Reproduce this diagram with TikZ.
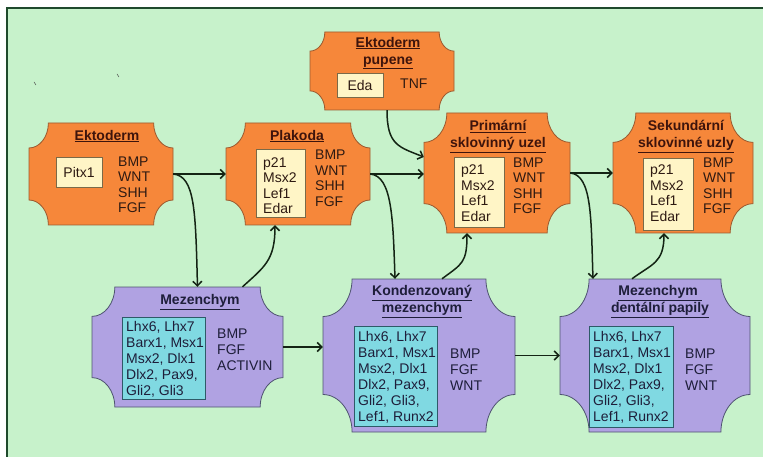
\documentclass[tikz,border=0pt]{standalone}
\usepackage{fontspec}
\setmainfont{Liberation Sans}
\usetikzlibrary{arrows.meta,calc}
\definecolor{bggreen}{HTML}{C7F2CB}
\definecolor{framec}{HTML}{1F4A2C}
\definecolor{orangeF}{HTML}{F6873A}
\definecolor{orangeD}{HTML}{9A5A30}
\definecolor{purpleF}{HTML}{B0A2E2}
\definecolor{purpleD}{HTML}{4F5470}
\definecolor{creamF}{HTML}{FFF5C6}
\definecolor{creamD}{HTML}{7A6A48}
\definecolor{cyanF}{HTML}{80D9E2}
\definecolor{cyanD}{HTML}{2E5A68}
\definecolor{txtO}{HTML}{2E1A12}
\definecolor{titO}{HTML}{3E140C}
\definecolor{txtP}{HTML}{1E1E3A}
\definecolor{arrc}{HTML}{142414}
\newcommand\plaque[7]{%
  \pgfmathsetmacro\plW{#4-#2}\pgfmathsetmacro\plH{#5-#3}%
  \pgfmathsetmacro\plM{min(\plW,\plH)}%
  \pgfmathsetmacro\plRx{0.19*\plM}\pgfmathsetmacro\plRy{0.245*\plM}%
  \pgfmathsetmacro\plKx{0.552*\plRx}\pgfmathsetmacro\plKy{0.552*\plRy}%
  \node[inner sep=0pt, minimum width=\plW pt, minimum height=\plH pt] (#1) at ({(#2+#4)/2},{(#3+#5)/2}) {};
  \filldraw[fill=#6, draw=#7, line width=0.8pt]
    ({#2+\plRx},#3) -- ({#4-\plRx},#3)
    .. controls ({#4-\plRx},{#3+\plKy}) and ({#4-\plKx},{#3+\plRy}) .. (#4,{#3+\plRy})
    -- (#4,{#5-\plRy})
    .. controls ({#4-\plKx},{#5-\plRy}) and ({#4-\plRx},{#5-\plKy}) .. ({#4-\plRx},#5)
    -- ({#2+\plRx},#5)
    .. controls ({#2+\plRx},{#5-\plKy}) and ({#2+\plKx},{#5-\plRy}) .. (#2,{#5-\plRy})
    -- (#2,{#3+\plRy})
    .. controls ({#2+\plKx},{#3+\plRy}) and ({#2+\plRx},{#3+\plKy}) .. cycle;
}
\tikzset{
  ttlO/.style={font=\fontsize{14}{17}\selectfont\bfseries, text=titO, inner sep=0pt, align=center},
  ttlP/.style={font=\fontsize{14}{17}\selectfont\bfseries, text=txtP, inner sep=0pt, align=center},
  lstO/.style={font=\fontsize{14}{15.5}\selectfont, text=txtO, inner sep=0pt, align=left, anchor=west},
  lstP/.style={font=\fontsize{14}{16}\selectfont, text=txtP, inner sep=0pt, align=left, anchor=west},
  creambox/.style={draw=creamD, fill=creamF, line width=0.6pt, inner sep=0pt},
  cyanbox/.style={draw=cyanD, fill=cyanF, line width=0.6pt, inner sep=0pt},
  arr/.style={draw=arrc, line width=1.5pt, -{Straight Barb[length=4.5pt,width=9pt]}}
}
\begin{document}
\begin{tikzpicture}[x=1pt,y=-1pt]
\useasboundingbox (0,0) rectangle (763,457);
\fill[white] (0,0) rectangle (763,457);
\fill[bggreen] (7,8) rectangle (763,457);
\draw[framec, line width=1.6pt] (7,457) -- (7,8) -- (763,8);
\draw[gray!60!black, line width=0.5pt] (34,82) -- (36,85);
\draw[gray!60!black, line width=0.5pt] (117,74) -- (119,77);

% plaques
\plaque{ekt}{29}{123}{173}{225}{orangeF}{orangeD}
\plaque{plak}{226}{123}{370}{225}{orangeF}{orangeD}
\plaque{pup}{310}{32}{454}{110}{orangeF}{orangeD}
\plaque{prim}{424}{113}{570}{233}{orangeF}{orangeD}
\plaque{sek}{613}{113}{753}{233}{orangeF}{orangeD}
\plaque{mez}{92}{287}{283}{407}{purpleF}{purpleD}
\plaque{kond}{323}{279}{515}{432}{purpleF}{purpleD}
\plaque{dent}{560}{279}{750}{432}{purpleF}{purpleD}

% Ektoderm
\node[ttlO] (t1) at (107,136) {\underline{Ektoderm}};
\node[creambox, minimum width=46pt, minimum height=30pt, font=\fontsize{14}{16}\selectfont, text=txtO] (b1) at (79,172) {Pitx1};
\node[lstO] (l1) at (118,185) {BMP\\WNT\\SHH\\FGF};

% Plakoda
\node[ttlO] (t2) at (297,136) {\underline{Plakoda}};
\node[creambox, minimum width=49pt, minimum height=68pt] (b2) at (280.5,183) {};
\node[lstO] (c2) at (263,185.5) {p21\\Msx2\\Lef1\\Edar};
\node[lstO] (l2) at (315,178.5) {BMP\\WNT\\SHH\\FGF};

% Ektoderm pupene
\node[ttlO] (t3) at (388,53) {\underline{Ektoderm}\\\underline{pupene}};
\node[creambox, minimum width=46pt, minimum height=24pt, font=\fontsize{14}{16}\selectfont, text=txtO] (b3) at (360,85) {Eda};
\node[lstO] (l3) at (400,84) {TNF};

% Primarni sklovinny uzel
\node[ttlO] (t4) at (498,136.5) {\underline{Primární}\\\underline{sklovinný uzel}};
\node[creambox, minimum width=50pt, minimum height=70pt] (b4) at (479,192) {};
\node[lstO] (c4) at (461,193) {p21\\Msx2\\Lef1\\Edar};
\node[lstO] (l4) at (513,186) {BMP\\WNT\\SHH\\FGF};

% Sekundarni sklovinne uzly
\node[ttlO] (t5) at (686,136.5) {Sekundární\\\underline{sklovinné uzly}};
\node[creambox, minimum width=50pt, minimum height=72pt] (b5) at (668,194) {};
\node[lstO] (c5) at (650,193) {p21\\Msx2\\Lef1\\Edar};
\node[lstO] (l5) at (703,186) {BMP\\WNT\\SHH\\FGF};

% Mezenchym
\node[ttlP] (t6) at (200,302) {\underline{Mezenchym}};
\node[cyanbox, minimum width=83pt, minimum height=82pt] (b6) at (163.5,358) {};
\node[lstP] (c6) at (126,359) {Lhx6, Lhx7\\Barx1, Msx1\\Msx2, Dlx1\\Dlx2, Pax9,\\Gli2, Gli3};
\node[lstP] (l6) at (217,350) {BMP\\FGF\\ACTIVIN};

% Kondenzovany mezenchym
\node[ttlP] (t7) at (422,301.5) {\underline{Kondenzovaný}\\\underline{mezenchym}};
\node[cyanbox, minimum width=83pt, minimum height=100pt] (b7) at (395.5,376) {};
\node[lstP] (c7) at (358,377) {Lhx6, Lhx7\\Barx1, Msx1\\Msx2, Dlx1\\Dlx2, Pax9,\\Gli2, Gli3,\\Lef1, Runx2};
\node[lstP] (l7) at (450,370) {BMP\\FGF\\WNT};

% Mezenchym dentalni papily
\node[ttlP] (t8) at (660,301.5) {\underline{Mezenchym }\\\underline{dentální papily}};
\node[cyanbox, minimum width=84pt, minimum height=101pt] (b8) at (631,376.5) {};
\node[lstP] (c8) at (593,377) {Lhx6, Lhx7\\Barx1, Msx1\\Msx2, Dlx1\\Dlx2, Pax9,\\Gli2, Gli3,\\Lef1, Runx2};
\node[lstP] (l8) at (685,370) {BMP\\FGF\\WNT};

% connectors
\draw[arr] (ekt.east) -- (plak.west);
\draw[arr] (ekt.east) .. controls +(22,2) and +(-2,-75) .. ($(mez.north)+(10,0)$);
\draw[arr] ($(mez.north)+(55,0)$) .. controls +(22,-20) and +(0,35) .. ($(plak.south)+(-23,0)$);
\draw[arr] (plak.east) -- (prim.west |- plak.east);
\draw[arr] (plak.east) .. controls +(22,2) and +(-2,-60) .. ($(kond.north)+(-24,0)$);
\draw[arr] ($(kond.north)+(23,0)$) .. controls +(20,-15) and +(0,30) .. ($(prim.south)+(-30,0)$);
\draw[arr] ($(pup.south)+(5,0)$) .. controls +(0,35) and +(-25,-10) .. ($(prim.west)+(0,-16)$);
\draw[arr] (prim.east) -- (sek.west);
\draw[arr] (prim.east) .. controls +(22,2) and +(-2,-60) .. ($(dent.north)+(-62,0)$);
\draw[arr] ($(dent.north)+(-23,0)$) .. controls +(20,-15) and +(0,30) .. ($(sek.south)+(-19,0)$);
\draw[arr] (mez.east) -- (kond.west |- mez.east);
\draw[arr] (kond.east) -- (dent.west);
\end{tikzpicture}
\end{document}
